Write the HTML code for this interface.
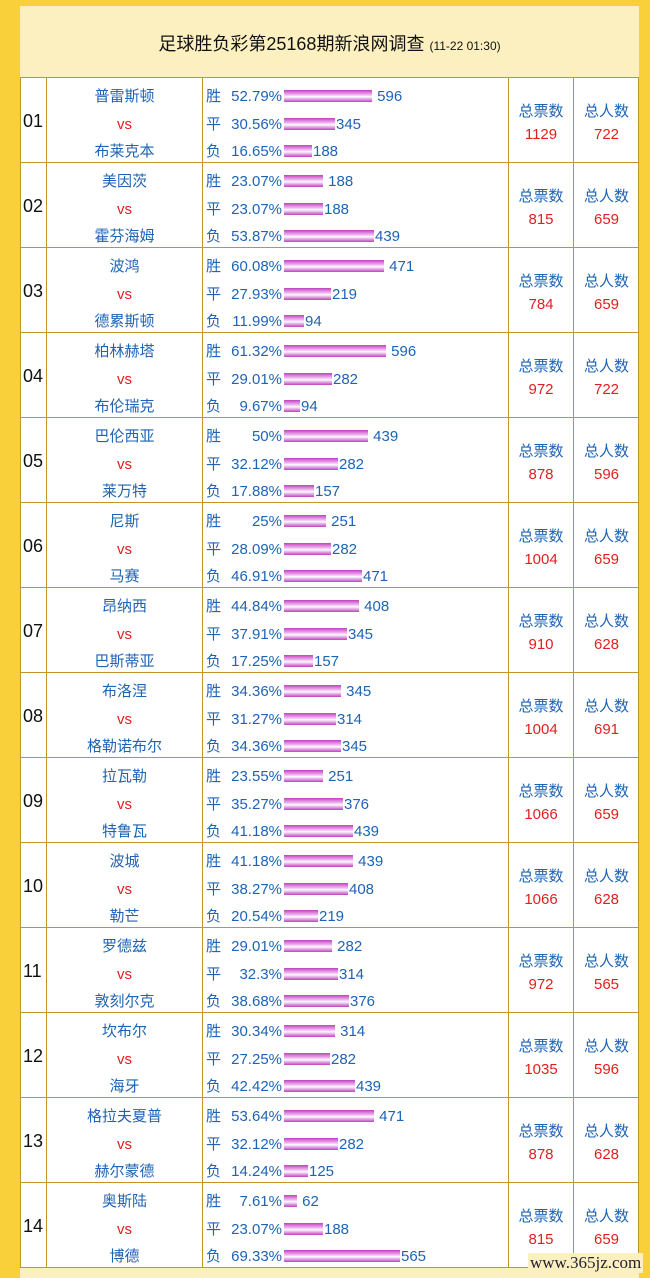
<!DOCTYPE html>
<html><head><meta charset="utf-8"><style>
*{margin:0;padding:0;box-sizing:border-box}
body{width:650px;height:1278px;background:#f9cf3a;position:relative;overflow:hidden;font-family:"Liberation Sans","Noto Sans CJK SC",sans-serif}
#in{position:absolute;left:20px;top:6px;width:619px;height:1272px;background:#fdf0c0}
#ti{position:absolute;left:20px;top:6px;width:619px;height:72px;text-align:center;line-height:76px;font-size:18px;color:#111}
#ti small{font-size:12px}
.r{position:absolute;left:20px;width:619px;height:86px;background:#fff;border:1px solid #c0962a}
.r>div{position:absolute;top:0;height:84px;border-right:1px solid #c0962a}
.n{left:0;width:26px;font-size:18px;line-height:86px;color:#111;padding-left:2px}
.t{left:26px;width:156px;text-align:center;color:#1e63b4;font-size:15px;padding-top:5px}
.t span,.b .l{display:block;height:27.5px;line-height:27px}
.t .v{color:#e02020}
.b{left:182px;width:306px;padding-top:5px;font-size:15px;color:#1e63b4}
.l{position:relative;white-space:nowrap}
.l i{font-style:normal;position:absolute;left:3px}
.l em{font-style:normal;position:absolute;right:226px}
.l span{position:absolute;left:81px;top:0}
.l b{display:inline-block;height:12px;vertical-align:-1px;margin-right:1px;background:linear-gradient(#c040c0,#f6c6f6 45%,#fff 55%,#c040c0)}
.z,.p{text-align:center;font-size:15px;padding-top:22px;line-height:23px;color:#1e63b4}
.z{left:488px;width:65px}.p{left:553px;width:65px;border-right:none!important}
.z span,.p span{display:block}
.red{color:#e02020}
#wm{position:absolute;left:528px;top:1253px;font-family:"Liberation Serif",serif;font-size:17px;color:#223;background:#fdf0c0;padding:0 2px}
</style></head><body>
<div id="in"></div>
<div id="ti">足球胜负彩第25168期新浪网调查 <small>(11-22 01:30)</small></div>

<div class="r" style="top:77px"><div class="n">01</div><div class="t"><span>普雷斯顿</span><span class="v">vs</span><span>布莱克本</span></div><div class="b"><div class="l"><i>胜</i><em>52.79%</em><span><b style="width:88px"></b> 596</span></div><div class="l"><i>平</i><em>30.56%</em><span><b style="width:51px"></b>345</span></div><div class="l"><i>负</i><em>16.65%</em><span><b style="width:28px"></b>188</span></div></div><div class="z"><span>总票数</span><span class="red">1129</span></div><div class="p"><span>总人数</span><span class="red">722</span></div></div>

<div class="r" style="top:162px"><div class="n">02</div><div class="t"><span>美因茨</span><span class="v">vs</span><span>霍芬海姆</span></div><div class="b"><div class="l"><i>胜</i><em>23.07%</em><span><b style="width:39px"></b> 188</span></div><div class="l"><i>平</i><em>23.07%</em><span><b style="width:39px"></b>188</span></div><div class="l"><i>负</i><em>53.87%</em><span><b style="width:90px"></b>439</span></div></div><div class="z"><span>总票数</span><span class="red">815</span></div><div class="p"><span>总人数</span><span class="red">659</span></div></div>

<div class="r" style="top:247px"><div class="n">03</div><div class="t"><span>波鸿</span><span class="v">vs</span><span>德累斯顿</span></div><div class="b"><div class="l"><i>胜</i><em>60.08%</em><span><b style="width:100px"></b> 471</span></div><div class="l"><i>平</i><em>27.93%</em><span><b style="width:47px"></b>219</span></div><div class="l"><i>负</i><em>11.99%</em><span><b style="width:20px"></b>94</span></div></div><div class="z"><span>总票数</span><span class="red">784</span></div><div class="p"><span>总人数</span><span class="red">659</span></div></div>

<div class="r" style="top:332px"><div class="n">04</div><div class="t"><span>柏林赫塔</span><span class="v">vs</span><span>布伦瑞克</span></div><div class="b"><div class="l"><i>胜</i><em>61.32%</em><span><b style="width:102px"></b> 596</span></div><div class="l"><i>平</i><em>29.01%</em><span><b style="width:48px"></b>282</span></div><div class="l"><i>负</i><em>9.67%</em><span><b style="width:16px"></b>94</span></div></div><div class="z"><span>总票数</span><span class="red">972</span></div><div class="p"><span>总人数</span><span class="red">722</span></div></div>

<div class="r" style="top:417px"><div class="n">05</div><div class="t"><span>巴伦西亚</span><span class="v">vs</span><span>莱万特</span></div><div class="b"><div class="l"><i>胜</i><em>50%</em><span><b style="width:84px"></b> 439</span></div><div class="l"><i>平</i><em>32.12%</em><span><b style="width:54px"></b>282</span></div><div class="l"><i>负</i><em>17.88%</em><span><b style="width:30px"></b>157</span></div></div><div class="z"><span>总票数</span><span class="red">878</span></div><div class="p"><span>总人数</span><span class="red">596</span></div></div>

<div class="r" style="top:502px"><div class="n">06</div><div class="t"><span>尼斯</span><span class="v">vs</span><span>马赛</span></div><div class="b"><div class="l"><i>胜</i><em>25%</em><span><b style="width:42px"></b> 251</span></div><div class="l"><i>平</i><em>28.09%</em><span><b style="width:47px"></b>282</span></div><div class="l"><i>负</i><em>46.91%</em><span><b style="width:78px"></b>471</span></div></div><div class="z"><span>总票数</span><span class="red">1004</span></div><div class="p"><span>总人数</span><span class="red">659</span></div></div>

<div class="r" style="top:587px"><div class="n">07</div><div class="t"><span>昂纳西</span><span class="v">vs</span><span>巴斯蒂亚</span></div><div class="b"><div class="l"><i>胜</i><em>44.84%</em><span><b style="width:75px"></b> 408</span></div><div class="l"><i>平</i><em>37.91%</em><span><b style="width:63px"></b>345</span></div><div class="l"><i>负</i><em>17.25%</em><span><b style="width:29px"></b>157</span></div></div><div class="z"><span>总票数</span><span class="red">910</span></div><div class="p"><span>总人数</span><span class="red">628</span></div></div>

<div class="r" style="top:672px"><div class="n">08</div><div class="t"><span>布洛涅</span><span class="v">vs</span><span>格勒诺布尔</span></div><div class="b"><div class="l"><i>胜</i><em>34.36%</em><span><b style="width:57px"></b> 345</span></div><div class="l"><i>平</i><em>31.27%</em><span><b style="width:52px"></b>314</span></div><div class="l"><i>负</i><em>34.36%</em><span><b style="width:57px"></b>345</span></div></div><div class="z"><span>总票数</span><span class="red">1004</span></div><div class="p"><span>总人数</span><span class="red">691</span></div></div>

<div class="r" style="top:757px"><div class="n">09</div><div class="t"><span>拉瓦勒</span><span class="v">vs</span><span>特鲁瓦</span></div><div class="b"><div class="l"><i>胜</i><em>23.55%</em><span><b style="width:39px"></b> 251</span></div><div class="l"><i>平</i><em>35.27%</em><span><b style="width:59px"></b>376</span></div><div class="l"><i>负</i><em>41.18%</em><span><b style="width:69px"></b>439</span></div></div><div class="z"><span>总票数</span><span class="red">1066</span></div><div class="p"><span>总人数</span><span class="red">659</span></div></div>

<div class="r" style="top:842px"><div class="n">10</div><div class="t"><span>波城</span><span class="v">vs</span><span>勒芒</span></div><div class="b"><div class="l"><i>胜</i><em>41.18%</em><span><b style="width:69px"></b> 439</span></div><div class="l"><i>平</i><em>38.27%</em><span><b style="width:64px"></b>408</span></div><div class="l"><i>负</i><em>20.54%</em><span><b style="width:34px"></b>219</span></div></div><div class="z"><span>总票数</span><span class="red">1066</span></div><div class="p"><span>总人数</span><span class="red">628</span></div></div>

<div class="r" style="top:927px"><div class="n">11</div><div class="t"><span>罗德兹</span><span class="v">vs</span><span>敦刻尔克</span></div><div class="b"><div class="l"><i>胜</i><em>29.01%</em><span><b style="width:48px"></b> 282</span></div><div class="l"><i>平</i><em>32.3%</em><span><b style="width:54px"></b>314</span></div><div class="l"><i>负</i><em>38.68%</em><span><b style="width:65px"></b>376</span></div></div><div class="z"><span>总票数</span><span class="red">972</span></div><div class="p"><span>总人数</span><span class="red">565</span></div></div>

<div class="r" style="top:1012px"><div class="n">12</div><div class="t"><span>坎布尔</span><span class="v">vs</span><span>海牙</span></div><div class="b"><div class="l"><i>胜</i><em>30.34%</em><span><b style="width:51px"></b> 314</span></div><div class="l"><i>平</i><em>27.25%</em><span><b style="width:46px"></b>282</span></div><div class="l"><i>负</i><em>42.42%</em><span><b style="width:71px"></b>439</span></div></div><div class="z"><span>总票数</span><span class="red">1035</span></div><div class="p"><span>总人数</span><span class="red">596</span></div></div>

<div class="r" style="top:1097px"><div class="n">13</div><div class="t"><span>格拉夫夏普</span><span class="v">vs</span><span>赫尔蒙德</span></div><div class="b"><div class="l"><i>胜</i><em>53.64%</em><span><b style="width:90px"></b> 471</span></div><div class="l"><i>平</i><em>32.12%</em><span><b style="width:54px"></b>282</span></div><div class="l"><i>负</i><em>14.24%</em><span><b style="width:24px"></b>125</span></div></div><div class="z"><span>总票数</span><span class="red">878</span></div><div class="p"><span>总人数</span><span class="red">628</span></div></div>

<div class="r" style="top:1182px"><div class="n">14</div><div class="t"><span>奥斯陆</span><span class="v">vs</span><span>博德</span></div><div class="b"><div class="l"><i>胜</i><em>7.61%</em><span><b style="width:13px"></b> 62</span></div><div class="l"><i>平</i><em>23.07%</em><span><b style="width:39px"></b>188</span></div><div class="l"><i>负</i><em>69.33%</em><span><b style="width:116px"></b>565</span></div></div><div class="z"><span>总票数</span><span class="red">815</span></div><div class="p"><span>总人数</span><span class="red">659</span></div></div>

<div id="wm">www.365jz.com</div>
</body></html>
